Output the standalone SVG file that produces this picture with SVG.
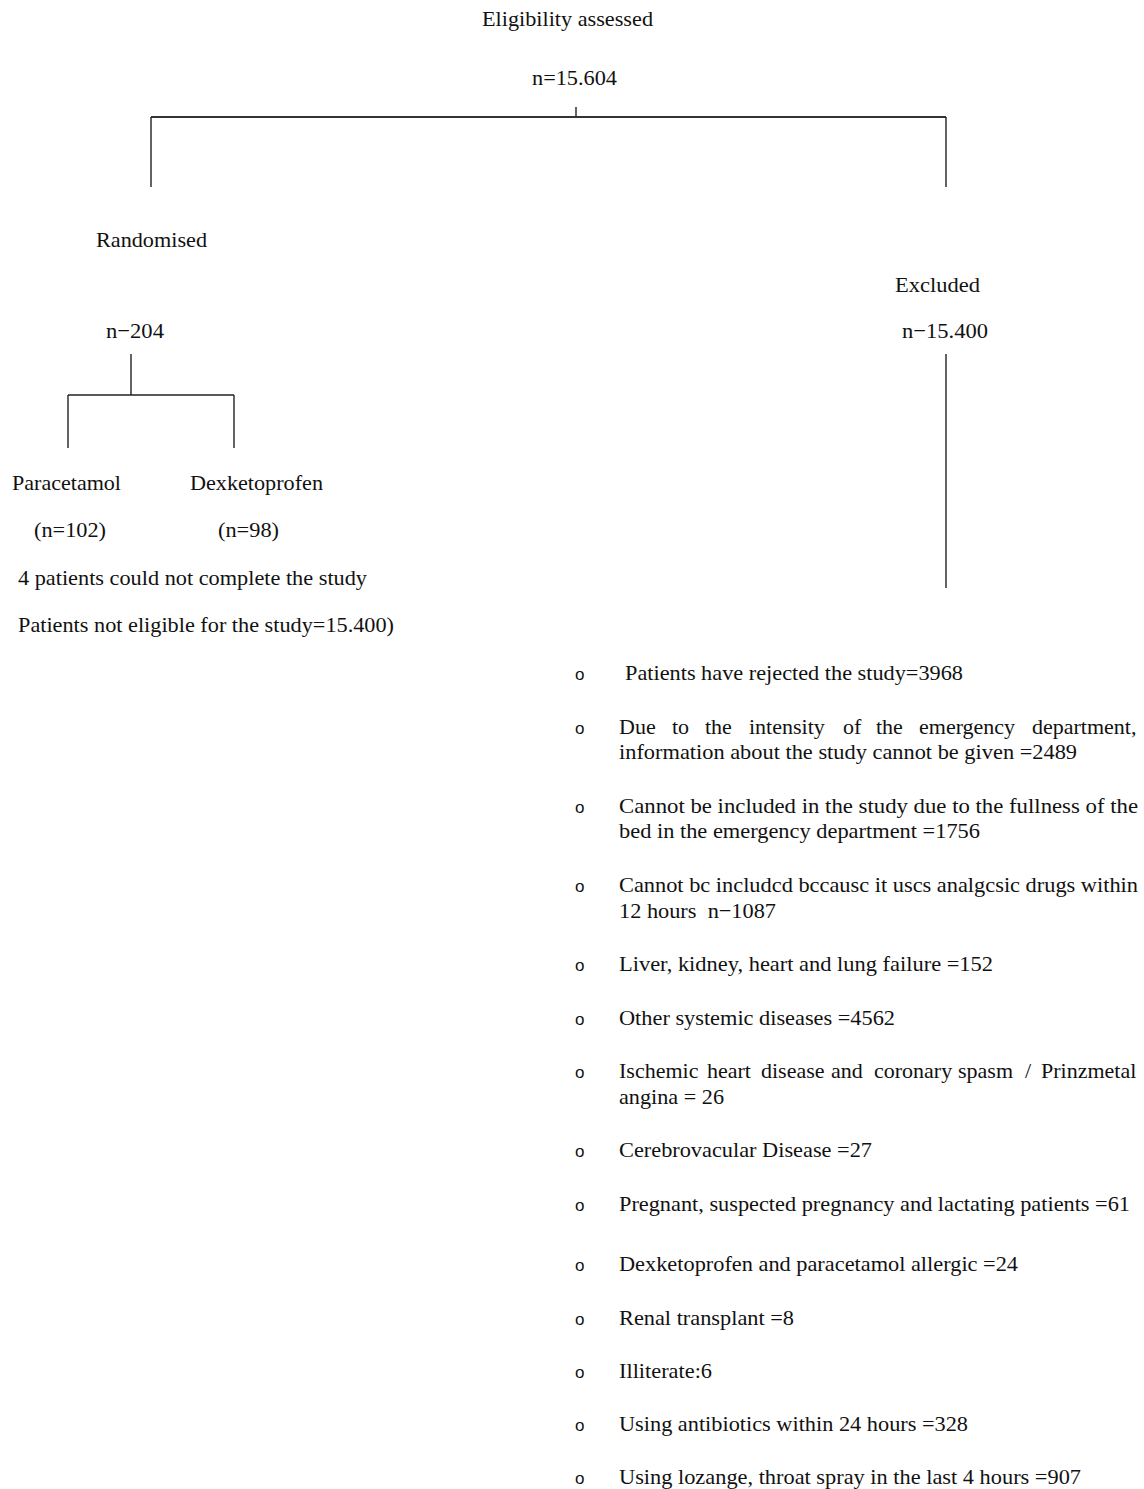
<svg xmlns="http://www.w3.org/2000/svg" width="1144" height="1489" viewBox="0 0 1144 1489">
<style>
text{font-family:"Liberation Serif","Times New Roman",serif;font-size:22px;fill:#111}
.t{font-size:22px}
.b{font-family:"Liberation Sans",Arial,sans-serif;font-size:17px}
.c{stroke:#222;stroke-width:1.4;fill:none}
.h{stroke:#333;stroke-width:2.2;fill:none}
.pre{white-space:pre}
</style>
<rect width="1144" height="1489" fill="#fff"/>
<g id="connectors">
<line class="c" x1="576" y1="107" x2="576" y2="117"/>
<line class="h" x1="151" y1="117" x2="946" y2="117"/>
<line class="c" x1="151" y1="117" x2="151" y2="187"/>
<line class="c" x1="946" y1="117" x2="946" y2="187"/>
<line class="c" x1="131" y1="354" x2="131" y2="395"/>
<line class="c" x1="68" y1="395" x2="234" y2="395"/>
<line class="c" x1="68" y1="395" x2="68" y2="448"/>
<line class="c" x1="234" y1="395" x2="234" y2="448"/>
<line class="c" x1="946" y1="354" x2="946" y2="588"/>
</g>
<g id="eligibility">
<text class="t" x="482" y="26" textLength="171" lengthAdjust="spacingAndGlyphs">Eligibility assessed</text>
<text class="t" x="532" y="85" textLength="85" lengthAdjust="spacingAndGlyphs">n=15.604</text>
</g>
<g id="randomised">
<text x="96" y="247" textLength="111" lengthAdjust="spacingAndGlyphs">Randomised</text>
<text x="106" y="338" textLength="58" lengthAdjust="spacingAndGlyphs">n−204</text>
</g>
<g id="paracetamol">
<text x="12" y="490" textLength="109" lengthAdjust="spacingAndGlyphs">Paracetamol</text>
<text x="34" y="537" textLength="72" lengthAdjust="spacingAndGlyphs">(n=102)</text>
</g>
<g id="dexketoprofen">
<text x="190" y="490" textLength="133" lengthAdjust="spacingAndGlyphs">Dexketoprofen</text>
<text x="218" y="537" textLength="61" lengthAdjust="spacingAndGlyphs">(n=98)</text>
</g>
<g id="notes">
<text x="18" y="585" textLength="349" lengthAdjust="spacingAndGlyphs">4 patients could not complete the study</text>
<text x="18" y="632" textLength="376" lengthAdjust="spacingAndGlyphs">Patients not eligible for the study=15.400)</text>
</g>
<g id="excluded">
<text x="895" y="292" textLength="85" lengthAdjust="spacingAndGlyphs">Excluded</text>
<text x="902" y="338" textLength="86" lengthAdjust="spacingAndGlyphs">n−15.400</text>
</g>
<g id="exclusion-list">
<text class="b" x="575" y="680">o</text>
<text x="625" y="680" textLength="338" lengthAdjust="spacingAndGlyphs">Patients have rejected the study=3968</text>
<text class="b" x="575" y="734">o</text>
<text y="734"><tspan x="619">Due</tspan><tspan x="672">to</tspan><tspan x="705">the</tspan><tspan x="749">intensity</tspan><tspan x="843">of</tspan><tspan x="876">the</tspan><tspan x="919">emergency</tspan><tspan x="1032">department,</tspan></text>
<text x="619" y="759" textLength="458" lengthAdjust="spacingAndGlyphs">information about the study cannot be given =2489</text>
<text class="b" x="575" y="813">o</text>
<text x="619" y="813" textLength="519" lengthAdjust="spacingAndGlyphs">Cannot be included in the study due to the fullness of the</text>
<text x="619" y="838" textLength="361" lengthAdjust="spacingAndGlyphs">bed in the emergency department =1756</text>
<text class="b" x="575" y="892">o</text>
<text x="619" y="892" textLength="519" lengthAdjust="spacingAndGlyphs">Cannot bc includcd bccausc it uscs analgcsic drugs within</text>
<text class="pre" x="619" y="918" textLength="157" lengthAdjust="spacingAndGlyphs">12 hours  n−1087</text>
<text class="b" x="575" y="971">o</text>
<text x="619" y="971" textLength="374" lengthAdjust="spacingAndGlyphs">Liver, kidney, heart and lung failure =152</text>
<text class="b" x="575" y="1025">o</text>
<text x="619" y="1025" textLength="276" lengthAdjust="spacingAndGlyphs">Other systemic diseases =4562</text>
<text class="b" x="575" y="1078">o</text>
<text y="1078"><tspan x="619">Ischemic</tspan><tspan x="707">heart</tspan><tspan x="761">disease</tspan><tspan x="831">and</tspan><tspan x="874">coronary</tspan><tspan x="958">spasm</tspan><tspan x="1025">/</tspan><tspan x="1041">Prinzmetal</tspan></text>
<text x="619" y="1104" textLength="105" lengthAdjust="spacingAndGlyphs">angina = 26</text>
<text class="b" x="575" y="1157">o</text>
<text x="619" y="1157" textLength="253" lengthAdjust="spacingAndGlyphs">Cerebrovacular Disease =27</text>
<text class="b" x="575" y="1211">o</text>
<text x="619" y="1211" textLength="511" lengthAdjust="spacingAndGlyphs">Pregnant, suspected pregnancy and lactating patients =61</text>
<text class="b" x="575" y="1271">o</text>
<text x="619" y="1271" textLength="399" lengthAdjust="spacingAndGlyphs">Dexketoprofen and paracetamol allergic =24</text>
<text class="b" x="575" y="1325">o</text>
<text x="619" y="1325" textLength="175" lengthAdjust="spacingAndGlyphs">Renal transplant =8</text>
<text class="b" x="575" y="1378">o</text>
<text x="619" y="1378" textLength="93" lengthAdjust="spacingAndGlyphs">Illiterate:6</text>
<text class="b" x="575" y="1431">o</text>
<text x="619" y="1431" textLength="349" lengthAdjust="spacingAndGlyphs">Using antibiotics within 24 hours =328</text>
<text class="b" x="575" y="1484">o</text>
<text x="619" y="1484" textLength="462" lengthAdjust="spacingAndGlyphs">Using lozange, throat spray in the last 4 hours =907</text>
</g>
</svg>
